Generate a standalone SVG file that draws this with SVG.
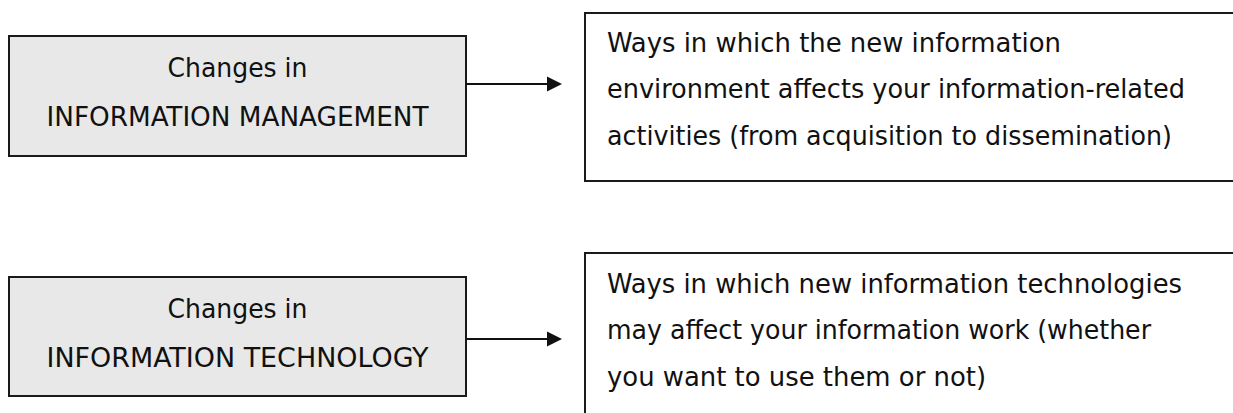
<svg xmlns="http://www.w3.org/2000/svg" width="1233" height="413" viewBox="0 0 1233 413">
<style>
.bg{fill:#ffffff}
.src{fill:#e8e8e8;stroke:#1a1a1a;stroke-width:2}
.dst{fill:#ffffff;stroke:#1a1a1a;stroke-width:2}
.t{font-family:"DejaVu Sans Condensed","DejaVu Sans","Liberation Sans",sans-serif;font-size:26px;fill:#111111}
.c{text-anchor:middle}
.conn{stroke:#111111;stroke-width:2;fill:none}
.head{fill:#111111}
</style>
<rect class="bg" x="0" y="0" width="1233" height="413"/>
<g id="node-im">
<rect class="src" x="9" y="36" width="457" height="120"/>
<text class="t c" x="237.5" y="77" textLength="140" lengthAdjust="spacingAndGlyphs">Changes in</text>
<text class="t c" x="237.5" y="126" textLength="382" lengthAdjust="spacingAndGlyphs">INFORMATION MANAGEMENT</text>
</g>
<g id="node-im-effects">
<rect class="dst" x="585" y="13" width="700" height="168"/>
<text class="t" x="607" y="52" textLength="454" lengthAdjust="spacingAndGlyphs">Ways in which the new information</text>
<text class="t" x="607" y="98" textLength="578" lengthAdjust="spacingAndGlyphs">environment affects your information-related</text>
<text class="t" x="607" y="145" textLength="565" lengthAdjust="spacingAndGlyphs">activities (from acquisition to dissemination)</text>
</g>
<g id="node-it">
<rect class="src" x="9" y="277" width="457" height="119"/>
<text class="t c" x="237.5" y="318" textLength="140" lengthAdjust="spacingAndGlyphs">Changes in</text>
<text class="t c" x="237.5" y="367" textLength="382" lengthAdjust="spacingAndGlyphs">INFORMATION TECHNOLOGY</text>
</g>
<g id="node-it-effects">
<rect class="dst" x="585" y="253" width="700" height="200"/>
<text class="t" x="607" y="293" textLength="575" lengthAdjust="spacingAndGlyphs">Ways in which new information technologies</text>
<text class="t" x="607" y="339" textLength="544" lengthAdjust="spacingAndGlyphs">may affect your information work (whether</text>
<text class="t" x="607" y="386" textLength="379" lengthAdjust="spacingAndGlyphs">you want to use them or not)</text>
</g>
<g id="connectors">
<line class="conn" x1="466" y1="84" x2="548" y2="84"/>
<polygon class="head" points="547,76.5 562,84 547,91.5"/>
<line class="conn" x1="466" y1="339" x2="548" y2="339"/>
<polygon class="head" points="547,331.5 562,339 547,346.5"/>
</g>
</svg>
